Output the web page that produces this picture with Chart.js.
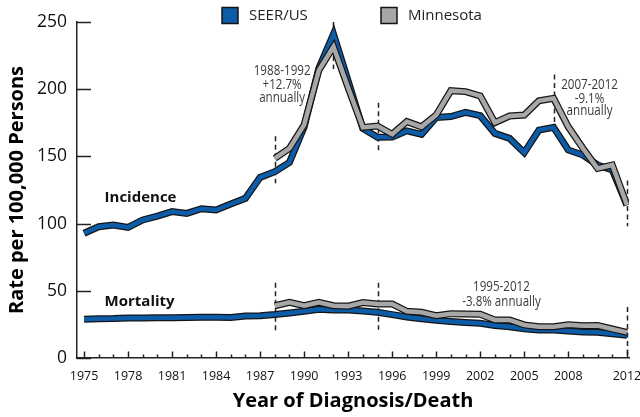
<!DOCTYPE html>
<html>
<head>
<meta charset="utf-8">
<script src="https://cdn.jsdelivr.net/npm/chart.js@4.4.1/dist/chart.umd.min.js"></script>
<style>
  html, body { margin: 0; padding: 0; background: #fff; }
  #wrap { width: 640px; height: 417px; }
</style>
</head>
<body>
<div id="wrap"><canvas id="chart" width="640" height="417"></canvas></div>
<script>
// Year axis
const years = [1975, 1976, 1977, 1978, 1979, 1980, 1981, 1982, 1983, 1984,
  1985, 1986, 1987, 1988, 1989, 1990, 1991, 1992, 1993, 1994,
  1995, 1996, 1997, 1998, 1999, 2000, 2001, 2002, 2003, 2004,
  2005, 2006, 2007, 2008, 2009, 2010, 2011, 2012];
const mnYears = [1988, 1989, 1990, 1991, 1992, 1993, 1994, 1995, 1996, 1997,
  1998, 1999, 2000, 2001, 2002, 2003, 2004, 2005, 2006, 2007,
  2008, 2009, 2010, 2011, 2012];
const tickYears = [1975, 1978, 1981, 1984, 1987, 1990, 1993, 1996, 1999, 2002, 2005, 2008, 2012];
const yTicks = [0, 50, 100, 150, 200, 250];

// Rates per 100,000
const incidenceUS = [92.8, 97.7, 99, 97.2, 102.7, 105.6, 108.9, 107.6, 111.1, 110.1,
  114.6, 118.8, 134.4, 138.6, 145.5, 172, 215.5, 241, 206, 170.8,
  164.2, 164.5, 169, 166.4, 179, 179.6, 182.8, 180.3, 167.1, 163.4,
  152.8, 169.6, 171.6, 154.8, 151, 143.6, 139.9, 113.8];
const incidenceMN = [148.6, 156, 173.4, 214, 231.6, 201, 171.6, 172.6, 166.5, 175.9,
  172, 180.8, 198.9, 198.2, 195, 175.1, 180.1, 180.8, 191.4, 193.2,
  172, 156, 141.1, 143.6, 113.8];
const mortalityUS = [28.8, 29.2, 29.3, 29.7, 29.8, 29.9, 29.9, 30.1, 30.3, 30.4,
  30.2, 31.2, 31.4, 32.3, 33.5, 34.8, 36.2, 35.8, 35.8, 35,
  34, 32.3, 30.5, 29.2, 28, 27.1, 26.4, 25.8, 24.2, 23.3,
  21.7, 20.9, 20.8, 20.1, 19.3, 19.1, 18, 17];
const mortalityMN = [38.9, 41.4, 38.9, 41.4, 38.9, 38.6, 41.2, 40.2, 40.2, 34.7,
  34, 31.5, 33, 32.8, 32.5, 28.3, 28.3, 24.6, 23.3, 23.3,
  24.8, 24, 24.2, 21.6, 19.1];

// Trend breakpoints: [year, from, to] in rate units
const trendBreaks = [[1988, 130, 165], [1992, 215, 250], [1995, 153, 190], [2007, 175, 211],
  [2012, 98, 132], [1988, 20, 56], [1995, 21, 56], [2012, 0, 38]];
const trendNotes = [
  { x: 1988.5, y: [214, 203.5, 193.5], text: ["1988-1992", "+12.7%", "annually"] },
  { x: 2009.45, y: [203, 192.5, 184], text: ["2007-2012", "-9.1%", "annually"] },
  { x: 2003.45, y: [53, 41.5], text: ["1995-2012", "-3.8% annually"] }
];
const seriesNotes = [
  { x: 1976.4, y: 119.5, text: "Incidence" },
  { x: 1976.4, y: 42, text: "Mortality" }
];
const legendItems = [["SEER/US", "#0d5ca8"], ["Minnesota", "#a7a7a7"]];

const BLUE = "#0d5ca8";
const GRAY = "#a7a7a7";
const EDGE = "#141414";
const FONT = "'Open Sans', 'DejaVu Sans', sans-serif";

function pts(xs, vals) {
  return xs.map((x, i) => ({ x, y: vals[i] }));
}

function band(data, color, width, order) {
  return {
    data,
    borderColor: color,
    borderWidth: width,
    borderJoinStyle: "miter",
    borderCapStyle: "butt",
    pointRadius: 0,
    fill: false,
    tension: 0,
    order
  };
}

const decor = {
  id: "decor",
  beforeDatasetsDraw(chart) {
    const { ctx, chartArea: ca, scales: { x, y } } = chart;
    ctx.save();
    ctx.strokeStyle = "#222";
    ctx.lineWidth = 1.5;
    // tick marks drawn inward
    yTicks.forEach(v => {
      const py = Math.round(y.getPixelForValue(v)) + 0.5;
      ctx.beginPath();
      ctx.moveTo(ca.left, py);
      ctx.lineTo(ca.left + 14, py);
      ctx.stroke();
    });
    years.forEach(yr => {
      const px = Math.round(x.getPixelForValue(yr)) + 0.5;
      const len = tickYears.includes(yr) ? 6.5 : 3.5;
      ctx.beginPath();
      ctx.moveTo(px, ca.bottom);
      ctx.lineTo(px, ca.bottom - len);
      ctx.stroke();
    });
    // trend break markers
    ctx.setLineDash([5, 3.5]);
    trendBreaks.forEach(([yr, a, b]) => {
      const px = Math.round(x.getPixelForValue(yr)) + 0.5;
      ctx.beginPath();
      ctx.moveTo(px, y.getPixelForValue(b));
      ctx.lineTo(px, y.getPixelForValue(a));
      ctx.stroke();
    });
    ctx.restore();
  },
  afterDraw(chart) {
    const { ctx, scales: { x, y } } = chart;
    ctx.save();
    ctx.fillStyle = "#3a3a3a";
    ctx.textAlign = "center";
    ctx.textBaseline = "middle";
    ctx.font = "14.5px " + FONT;
    // condensed look of the trend notes
    trendNotes.forEach(n => {
      n.text.forEach((t, i) => {
        ctx.save();
        ctx.translate(x.getPixelForValue(n.x), y.getPixelForValue(n.y[i]));
        ctx.scale(0.8, 1);
        ctx.fillText(t, 0, 0);
        ctx.restore();
      });
    });
    ctx.fillStyle = "#111";
    ctx.textAlign = "left";
    ctx.font = "bold 15px " + FONT;
    seriesNotes.forEach(n => ctx.fillText(n.text, x.getPixelForValue(n.x), y.getPixelForValue(n.y)));

    // legend
    ctx.font = "15px " + FONT;
    ctx.lineWidth = 1.5;
    ctx.strokeStyle = EDGE;
    const lx = [222, 381];
    legendItems.forEach(([label, color], i) => {
      ctx.fillStyle = color;
      ctx.fillRect(lx[i], 7.5, 16, 16);
      ctx.strokeRect(lx[i], 7.5, 16, 16);
      ctx.fillStyle = "#222";
      ctx.fillText(label, lx[i] + 27, 16);
    });
    ctx.restore();
  }
};

new Chart(document.getElementById("chart"), {
  type: "line",
  data: {
    datasets: [
      band(pts(mnYears, incidenceMN), GRAY, 4.5, 0),
      band(pts(mnYears, incidenceMN), EDGE, 7, 1),
      band(pts(mnYears, mortalityMN), GRAY, 4.5, 0),
      band(pts(mnYears, mortalityMN), EDGE, 7, 1),
      band(pts(years, incidenceUS), BLUE, 4.5, 2),
      band(pts(years, incidenceUS), EDGE, 7, 3),
      band(pts(years, mortalityUS), BLUE, 4.5, 2),
      band(pts(years, mortalityUS), EDGE, 7, 3)
    ]
  },
  options: {
    responsive: false,
    animation: false,
    layout: { padding: { top: 22, right: 11, left: 0, bottom: 0 } },
    plugins: { legend: { display: false }, tooltip: { enabled: false } },
    scales: {
      x: {
        type: "linear",
        min: 1974.52,
        max: 2012.14,
        afterFit(s) {
          s.height = 59;
          s.paddingLeft = 0;
          s.paddingRight = 0;
        },
        afterBuildTicks(s) { s.ticks = years.map(v => ({ value: v })); },
        grid: { drawOnChartArea: false, drawTicks: false },
        border: { color: "#222", width: 1.5 },
        ticks: {
          autoSkip: false,
          maxRotation: 0,
          padding: 11,
          color: "#111",
          font: { family: FONT, size: 12.5 },
          callback: v => tickYears.includes(v) ? String(v) : ""
        },
        title: {
          display: true,
          text: "Year of Diagnosis/Death",
          color: "#000",
          font: { family: FONT, size: 20, weight: "bold" },
          padding: { top: 0, bottom: 4 }
        }
      },
      y: {
        min: 0,
        max: 250,
        afterFit(s) { s.width = 77; },
        afterBuildTicks(s) { s.ticks = yTicks.map(v => ({ value: v })); },
        grid: { drawOnChartArea: false, drawTicks: false },
        border: { color: "#222", width: 1.5 },
        ticks: {
          padding: 10,
          color: "#111",
          font: { family: FONT, size: 17.5 }
        },
        title: {
          display: true,
          text: "Rate per 100,000 Persons",
          color: "#000",
          font: { family: FONT, size: 20, weight: "bold" },
          padding: { top: 5, bottom: 0 }
        }
      }
    }
  },
  plugins: [decor]
});
</script>
</body>
</html>
